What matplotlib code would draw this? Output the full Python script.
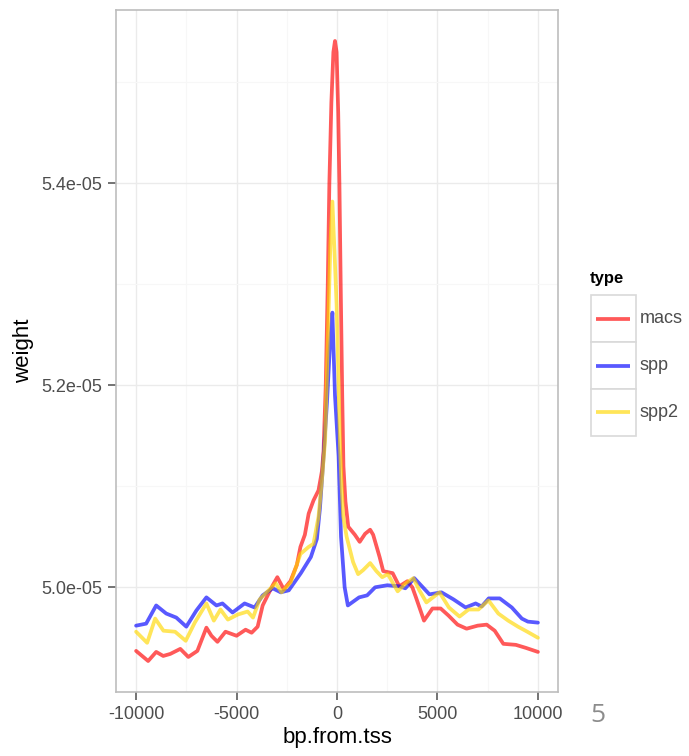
import matplotlib
matplotlib.use("Agg")
import matplotlib.pyplot as plt
import numpy as np
from matplotlib.patches import Rectangle
from matplotlib.lines import Line2D
from matplotlib.ticker import FuncFormatter, FixedLocator

plt.rcParams["font.family"] = ["Liberation Sans", "DejaVu Sans"]

# weight profiles around the TSS (y in units of 1e-05)
macs_x = [-10000, -9400, -9000, -8650, -8300, -7800, -7400, -6950, -6500, -6250,
          -5950, -5550, -5000, -4550, -4250, -3950, -3700, -3450, -3200, -2970,
          -2650, -2320, -2000, -1820, -1600, -1410, -1170, -920, -750, -670,
          -560, -460, -380, -280, -180, -100, -20, 60, 120, 190, 260, 320, 420,
          560, 890, 1130, 1400, 1650, 1800, 2120, 2300, 2770, 3100, 3500, 3750,
          3930, 4330, 4750, 5160, 5550, 6000, 6450, 7000, 7450, 7850, 8280, 8900,
          9400, 10000]
macs_y = [4.937, 4.927, 4.936, 4.932, 4.934, 4.939, 4.931, 4.937, 4.960, 4.952,
          4.946, 4.956, 4.952, 4.958, 4.955, 4.961, 4.982, 4.992, 5.002, 5.010,
          4.998, 5.006, 5.022, 5.040, 5.052, 5.073, 5.086, 5.096, 5.115, 5.135,
          5.200, 5.300, 5.400, 5.480, 5.530, 5.541, 5.530, 5.470, 5.400, 5.290,
          5.190, 5.120, 5.085, 5.060, 5.052, 5.045, 5.053, 5.057, 5.052, 5.030,
          5.016, 5.014, 5.001, 5.006, 5.000, 4.990, 4.967, 4.979, 4.979, 4.972,
          4.963, 4.959, 4.962, 4.963, 4.957, 4.944, 4.943, 4.940, 4.936]

spp_x = [-10000, -9500, -9000, -8500, -8000, -7500, -7000, -6500, -6000, -5700,
         -5200, -4600, -4100, -3700, -3200, -2800, -2400, -1800, -1300, -1000,
         -850, -670, -500, -350, -230, -100, 80, 200, 380, 540, 1100, 1500, 1900,
         2500, 3100, 3400, 3850, 4600, 5200, 5800, 6400, 6900, 7200, 7550, 8100,
         8700, 9200, 9500, 10000]
spp_y = [4.962, 4.964, 4.982, 4.974, 4.970, 4.961, 4.977, 4.990, 4.982, 4.984,
         4.975, 4.984, 4.980, 4.992, 4.999, 4.995, 4.997, 5.014, 5.030, 5.048,
         5.078, 5.129, 5.183, 5.240, 5.272, 5.190, 5.130, 5.050, 5.000, 4.982,
         4.990, 4.992, 5.000, 5.002, 5.001, 4.999, 5.009, 4.993, 4.995, 4.988,
         4.980, 4.984, 4.981, 4.989, 4.989, 4.980, 4.969, 4.966, 4.965]

spp2_x = [-10000, -9450, -9050, -8640, -8060, -7530, -7080, -6500, -6130, -5800,
          -5430, -4940, -4450, -4180, -3850, -3400, -3050, -2760, -2300, -1820,
          -1410, -1170, -920, -750, -590, -450, -330, -230, -120, -20, 80, 150,
          230, 310, 480, 800, 1050, 1300, 1650, 1960, 2250, 2530, 3020, 3430,
          3800, 4100, 4450, 5100, 5570, 6100, 6550, 7040, 7540, 8030, 8520, 9010,
          9470, 10000]
spp2_y = [4.956, 4.945, 4.969, 4.957, 4.956, 4.947, 4.965, 4.984, 4.967, 4.978,
          4.968, 4.973, 4.976, 4.970, 4.988, 4.997, 5.004, 4.995, 5.005, 5.033,
          5.040, 5.043, 5.070, 5.106, 5.146, 5.250, 5.340, 5.382, 5.330, 5.280,
          5.200, 5.140, 5.100, 5.070, 5.050, 5.025, 5.013, 5.017, 5.024, 5.016,
          5.010, 5.013, 4.996, 5.004, 5.009, 4.997, 4.985, 4.995, 4.980, 4.971,
          4.978, 4.978, 4.987, 4.974, 4.967, 4.961, 4.956, 4.950]

types = ["macs", "spp", "spp2"]
colors = {"macs": "#FF0000", "spp": "#0000FF", "spp2": "#FFD700"}
series = {"macs": (macs_x, macs_y), "spp": (spp_x, spp_y), "spp2": (spp2_x, spp2_y)}

W, H = 689, 756
fig = plt.figure(figsize=(W / 100, H / 100), dpi=100)
ax = fig.add_axes([116 / W, 1 - 692 / H, (558 - 116) / W, (692 - 10) / H])

LW = 2.7
for t in types:
    x, y = series[t]
    ax.plot(x, np.array(y) * 1e-5, color=colors[t], lw=LW, alpha=0.65,
            solid_capstyle="round", zorder=3)

# ggplot-style limits: 5% expansion around data range
allx = np.concatenate([macs_x, spp_x, spp2_x])
ally = np.concatenate([macs_y, spp_y, spp2_y]) * 1e-5
dx, dy = np.ptp(allx) * 0.05, np.ptp(ally) * 0.05
ax.set_xlim(allx.min() - dx, allx.max() + dx)
ax.set_ylim(ally.min() - dy, ally.max() + dy)

ax.xaxis.set_major_locator(FixedLocator([-10000, -5000, 0, 5000, 10000]))
ax.xaxis.set_minor_locator(FixedLocator([-7500, -2500, 2500, 7500]))
ax.yaxis.set_major_locator(FixedLocator([5.0e-5, 5.2e-5, 5.4e-5]))
ax.yaxis.set_minor_locator(FixedLocator([5.1e-5, 5.3e-5, 5.5e-5]))
ax.yaxis.set_major_formatter(FuncFormatter(lambda v, p: f"{v:.1e}"))
ax.xaxis.set_major_formatter(FuncFormatter(lambda v, p: f"{v:.0f}"))

ax.grid(which="major", color="#EBEBEB", lw=1.0, zorder=0)
ax.grid(which="minor", color="#F7F7F7", lw=0.8, zorder=0)
ax.set_axisbelow(True)
for s in ax.spines.values():
    s.set_color("#BDBDBD")
    s.set_linewidth(1.2)

ax.tick_params(which="major", length=6, width=1.1, color="#4D4D4D",
               labelsize=13, labelcolor="#4D4D4D")
ax.tick_params(axis="x", which="major", pad=4)
ax.tick_params(axis="y", which="major", pad=4)
ax.tick_params(which="minor", length=0)

ax.set_xlabel("bp.from.tss", fontsize=16, labelpad=3)
ax.set_ylabel("weight", fontsize=16, labelpad=5)


def fx(px):
    return px / W


def fy(py):
    return 1 - py / H


# legend: title plus one bordered key per type
fig.text(fx(590), fy(279), "type", fontsize=12, fontweight="bold",
         ha="left", va="center")
box_top = 295
box_h = 47
for i, t in enumerate(types):
    top = box_top + i * box_h
    fig.add_artist(Rectangle((fx(591), fy(top + box_h)), (636 - 591) / W, box_h / H,
                             transform=fig.transFigure, facecolor="white",
                             edgecolor="#D9D9D9", lw=1.2))
    cy = top + box_h / 2
    fig.add_artist(Line2D([fx(596), fx(630)], [fy(cy), fy(cy)],
                          transform=fig.transFigure, color=colors[t], lw=LW,
                          alpha=0.65, solid_capstyle="butt"))
    fig.text(fx(640), fy(cy), t, fontsize=13, color="#4D4D4D",
             ha="left", va="center")

fig.text(fx(598), fy(716), "5", fontsize=19, color="#8C8C8C",
         family="Open Sans", ha="center", va="center")

fig.savefig("out.png", dpi=100)
